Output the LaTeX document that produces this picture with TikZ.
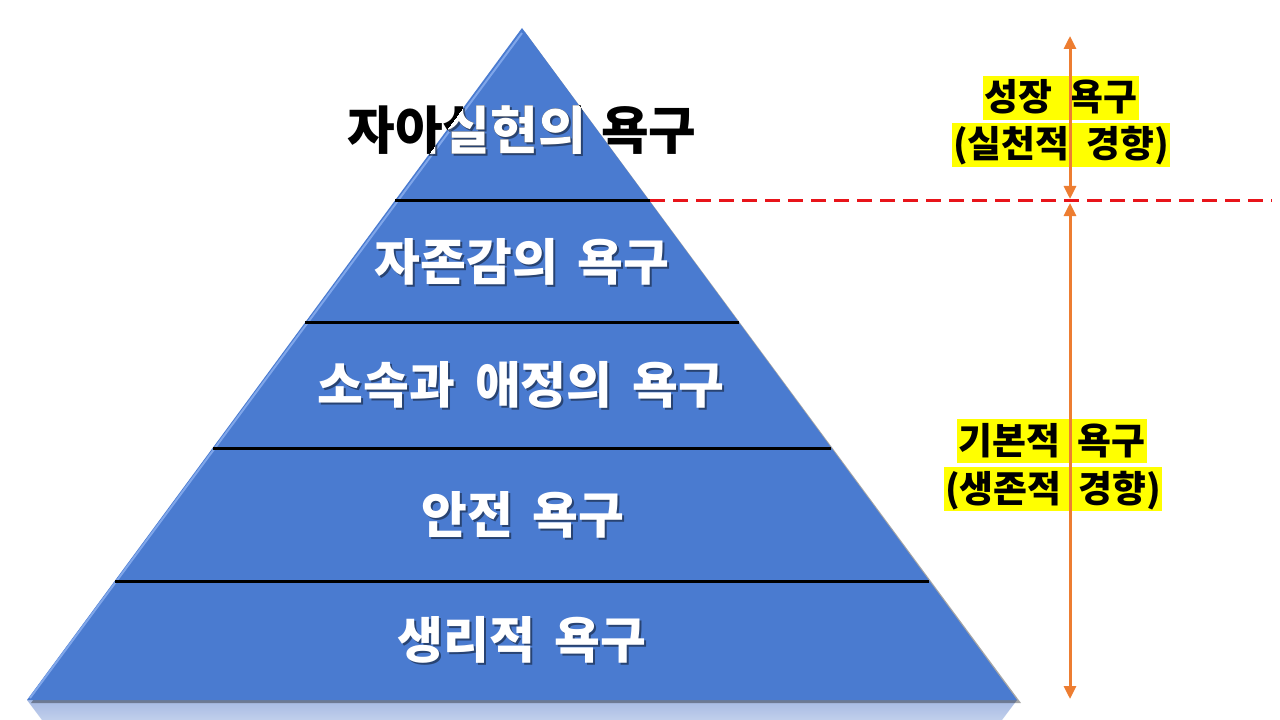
\documentclass[tikz,border=0pt]{standalone}
\usepackage{fontspec}
\setmainfont{Noto Sans CJK KR}
\usetikzlibrary{arrows.meta}
\definecolor{pyblue}{HTML}{4A7BD0}
\definecolor{pylight}{HTML}{7FA6EA}
\definecolor{refl}{HTML}{A6BAE3}
\definecolor{orangeline}{HTML}{ED7D31}
\definecolor{reddash}{HTML}{E8141A}
\definecolor{hilite}{HTML}{FFFF00}
\newcommand{\layfont}{\bfseries\fontsize{50}{60}\selectfont\spaceskip=0.4em\relax}
\newcommand{\topfont}{\bfseries\fontsize{52}{62}\selectfont\spaceskip=0.3em\relax}
\newcommand{\labfont}{\bfseries\fontsize{37}{42}\selectfont\spaceskip=0.45em\relax}
\begin{document}
\begin{tikzpicture}[x=1bp,y=-1bp,
  laytext/.style={font=\layfont, text=white, inner sep=0pt},
  layshadow/.style={font=\layfont, text=black, text opacity=0.45, inner sep=0pt},
  toptext/.style={font=\topfont, text=black, inner sep=0pt},
  topwhite/.style={font=\topfont, text=white, inner sep=0pt},
  topshadow/.style={font=\topfont, text=black, text opacity=0.45, inner sep=0pt},
  labelbox/.style={font=\labfont, text=black, fill=hilite, inner xsep=1.5bp, inner ysep=0pt, text height=35bp, text depth=9bp},
  divider/.style={line width=3bp, black},
  dashline/.style={line width=3bp, reddash, dash pattern=on 15bp off 8bp},
  span/.style={line width=3bp, orangeline, {Triangle[length=13bp,width=12bp]}-{Triangle[length=13bp,width=12bp]}}
]
\useasboundingbox (0,0) rectangle (1280,720);
\fill[white] (0,0) rectangle (1280,720);

% key points of the pyramid
\coordinate (apex) at (522,28);
\coordinate (bl) at (27,700);
\coordinate (br) at (1017,700);

% reflection below the base
\shade[top color=refl, bottom color=refl!70!white] (27,700) -- (1017,700) -- (1002,720) -- (42,720) -- cycle;

% soft shadow
\fill[black, opacity=0.35] (525,32) -- (1021,703) -- (31,703) -- cycle;
% pyramid
\fill[pyblue] (apex) -- (br) -- (bl) -- cycle;
\draw[pylight, line width=2bp] (30,698) -- (522,33);

% dividers
\coordinate (l1) at (395,201); \coordinate (r1) at (650,201);
\coordinate (l2) at (305,322); \coordinate (r2) at (739,322);
\coordinate (l3) at (213,448); \coordinate (r3) at (831,448);
\coordinate (l4) at (115,581); \coordinate (r4) at (929,581);
\draw[divider] (l1) -- (r1);
\draw[divider] (l2) -- (r2);
\draw[divider] (l3) -- (r3);
\draw[divider] (l4) -- (r4);

% red dashed boundary
\coordinate (dashend) at (1272,201);
\draw[dashline] (r1) -- (dashend);

% layer labels
\node[layshadow] (s2) at (524,264) {자존감의 욕구};
\node[laytext] (t2) at (522,262) {자존감의 욕구};
\node[layshadow] (s3) at (523,387) {소속과 애정의 욕구};
\node[laytext] (t3) at (521,385) {소속과 애정의 욕구};
\node[layshadow] (s4) at (525,517) {안전 욕구};
\node[laytext] (t4) at (523,515) {안전 욕구};
\node[layshadow] (s5) at (524,642) {생리적 욕구};
\node[laytext] (t5) at (522,640) {생리적 욕구};

% top label: black outside the pyramid, white inside
\node[toptext] (t1) at (522,130) {자아실현의 욕구};
\begin{scope}
  \clip (apex) -- (br) -- (bl) -- cycle;
  \node[topshadow] (s1) at (524,132) {자아실현의 욕구};
  \node[topwhite] (t1w) at (522,130) {자아실현의 욕구};
\end{scope}

% right side labels
\node[labelbox] (g1) at (1061,98) {성장 욕구};
\node[labelbox] (g2) at (1061,145) {(실천적 경향)};
\node[labelbox] (b1) at (1052,441) {기본적 욕구};
\node[labelbox] (b2) at (1053,489) {(생존적 경향)};

% orange double arrows
\coordinate (a1) at (1070,36);
\coordinate (a2) at (1070,199);
\coordinate (a3) at (1070,203);
\coordinate (a4) at (1070,699);
\draw[span] (a1) -- (a2);
\draw[span] (a3) -- (a4);
\end{tikzpicture}
\end{document}
